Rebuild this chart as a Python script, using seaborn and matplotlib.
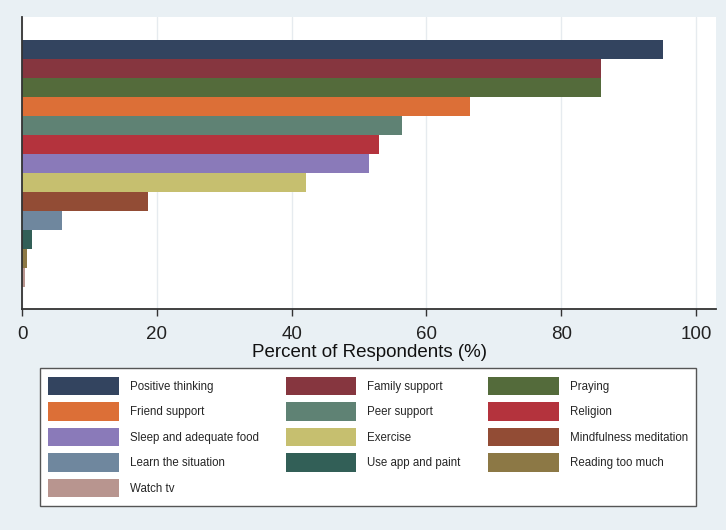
import pandas as pd
import matplotlib
matplotlib.use("Agg")
import matplotlib.pyplot as plt
import seaborn as sns

# data (percent of respondents)
strategies = [
    "Positive thinking", "Family support", "Praying", "Friend support",
    "Peer support", "Religion", "Sleep and adequate food", "Exercise",
    "Mindfulness meditation", "Learn the situation", "Use app and paint",
    "Reading too much", "Watch tv",
]
percent = [95.1, 85.9, 85.9, 66.4, 56.3, 53.0, 51.5, 42.2, 18.7, 5.9, 1.5, 0.7, 0.4]
xticks = [0, 20, 40, 60, 80, 100]

colors = [
    "#33445f", "#86363f", "#546b3b", "#dc6f37", "#5f8274", "#b4333d",
    "#8a7ab9", "#c6bf6f", "#924c35", "#6f879e", "#325f57", "#8c7845",
    "#b8958f",
]

def main():
    df = pd.DataFrame({"strategy": strategies, "percent": percent})

    sns.set_style("white")
    plt.rcParams["font.family"] = ["Liberation Sans", "DejaVu Sans"]

    bg = "#e9f0f4"
    fig = plt.figure(figsize=(7.26, 5.30), dpi=100, facecolor=bg)
    ax = fig.add_axes([22 / 726, 1 - 309 / 530, 694 / 726, 292 / 530])
    ax.set_facecolor("white")

    sns.barplot(data=df, x="percent", y="strategy", hue="strategy",
                order=strategies, hue_order=strategies, palette=colors,
                width=1.0, dodge=False, linewidth=0, saturation=1,
                legend=True, ax=ax)

    # vertical grid lines behind the bars
    ax.set_axisbelow(True)
    ax.xaxis.grid(True, color="#e6ebef", linewidth=1.0)
    ax.yaxis.grid(False)

    ax.set_xlim(0, 694 / 6.741)
    ax.set_ylim(12.5 + 1.16, -0.5 - 1.21)
    ax.set_xticks(xticks)
    ax.set_yticks([])
    ax.set_ylabel("")
    ax.set_xlabel("Percent of Respondents (%)", fontsize=13.5, color="#111111", labelpad=1)
    ax.tick_params(axis="x", direction="out", length=5, width=1, color="#333333",
                   labelsize=13.5, labelcolor="#222222", pad=7, bottom=True)

    for side in ["top", "right"]:
        ax.spines[side].set_visible(False)
    for side in ["left", "bottom"]:
        ax.spines[side].set_color("#333333")
        ax.spines[side].set_linewidth(1.3)

    # legend: row-wise order in 3 columns, like the original
    handles, labels = ax.get_legend_handles_labels()
    ax.get_legend().remove()
    idx = [0, 3, 6, 9, 12, 1, 4, 7, 10, 2, 5, 8, 11]
    handles = [handles[i] for i in idx]
    labels = [labels[i] for i in idx]

    fs = 8.3
    leg = fig.legend(handles, labels, ncol=3, fontsize=fs,
                     bbox_to_anchor=(40 / 726, 1 - 507 / 530, 656 / 726, 140 / 530),
                     loc="center", mode="expand",
                     handlelength=6.1, handleheight=2.1, handletextpad=0.96,
                     columnspacing=2.8, labelspacing=0.6, borderpad=0.72,
                     frameon=True, fancybox=False, borderaxespad=0)
    frame = leg.get_frame()
    frame.set_facecolor("white")
    frame.set_edgecolor("#555555")
    frame.set_linewidth(1.0)
    frame.set_alpha(1)

    fig.savefig("out.png", dpi=100, facecolor=bg)

if __name__ == "__main__":
    main()
